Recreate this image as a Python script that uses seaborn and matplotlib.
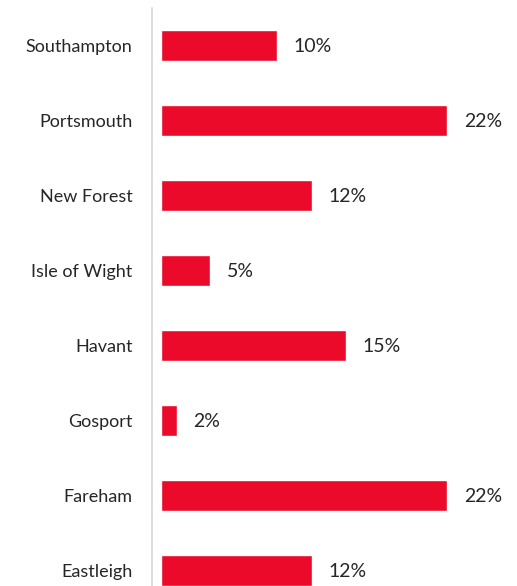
import pandas as pd
import numpy as np
import matplotlib
matplotlib.use('Agg')
import matplotlib.pyplot as plt
import seaborn as sns

# data area
areas = ['Southampton', 'Portsmouth', 'New Forest', 'Isle of Wight',
         'Havant', 'Gosport', 'Fareham', 'Eastleigh']
shares = [8.9, 22.0, 11.6, 3.8, 14.2, 1.2, 22.0, 11.6]
share_labels = ['10%', '22%', '12%', '5%', '15%', '2%', '22%', '12%']

data = pd.DataFrame({'area': areas, 'share': shares})

sns.set_style('white')
plt.rcParams['font.family'] = ['Lato', 'DejaVu Sans']

fig = plt.figure(figsize=(5.17, 5.86), dpi=100)
ax = fig.add_axes([161 / 517, 0, 325 / 517, 578 / 586])

sns.barplot(data=data, x='share', y='area', color='#EC0A2B', saturation=1,
            width=0.41, orient='h', ax=ax)

# value labels just right of each bar
for i, (v, lab) in enumerate(zip(shares, share_labels)):
    ax.annotate(lab, (v, i), xytext=(17, 0), textcoords='offset pixels',
                ha='left', va='center_baseline', fontsize=14, color='#262626')

ax.set_xlim(0, 25)
ax.set_ylim(7.207, -0.5)
ax.set_xlabel('')
ax.set_ylabel('')
ax.set_xticks([])
for s in ['top', 'right', 'bottom']:
    ax.spines[s].set_visible(False)
ax.spines['left'].set_position(('outward', 6.5))
ax.spines['left'].set_color('#d9d9d9')
ax.spines['left'].set_linewidth(1.2)
ax.tick_params(axis='y', length=0, pad=14, labelsize=13, labelcolor='#262626')

fig.savefig('out.png', dpi=100)
